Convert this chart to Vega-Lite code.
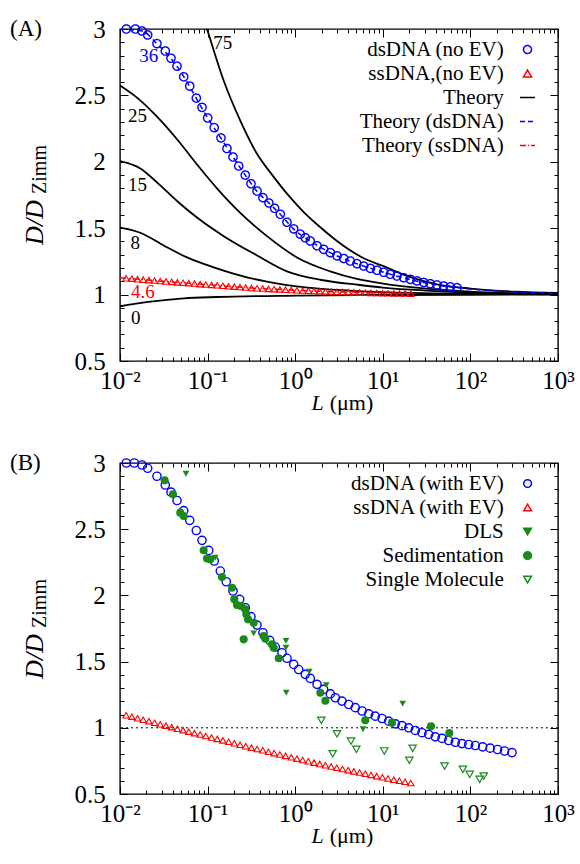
{
"$schema":"https://vega.github.io/schema/vega-lite/v6.json",
"background":"white",
"padding":{"left":9,"top":16,"right":0,"bottom":0},
"config":{
 "font":"Liberation Serif",
 "view":{"stroke":"black","strokeWidth":1.4},
 "axis":{"grid":false,"domain":false,"tickColor":"black","tickWidth":1,"labelFont":"Liberation Serif","labelFontSize":25,"labelColor":"black","titleFont":"Liberation Serif","titleColor":"black","titleFontWeight":"normal","labelFlush":false,"labelOverlap":false},
 "legend":{"labelFont":"Liberation Serif","titleFont":"Liberation Serif"},
 "text":{"font":"Liberation Serif"}
},
"datasets":{
 "theoryA":[
  {"curve":"75","L":0.0794,"v":3.19},{"curve":"75","L":0.0984,"v":3.0},{"curve":"75","L":0.1528,"v":2.61},{"curve":"75","L":0.236,"v":2.31},{"curve":"75","L":0.3664,"v":2.06},{"curve":"75","L":0.5623,"v":1.89},{"curve":"75","L":0.8054,"v":1.76},{"curve":"75","L":1.259,"v":1.62},{"curve":"75","L":1.995,"v":1.5},{"curve":"75","L":3.0,"v":1.404},{"curve":"75","L":5.623,"v":1.285},{"curve":"75","L":11.17,"v":1.203},{"curve":"75","L":19.95,"v":1.135},{"curve":"75","L":41.59,"v":1.077},{"curve":"75","L":100,"v":1.045},{"curve":"75","L":316.2,"v":1.022},{"curve":"75","L":1000,"v":1.012},
  {"curve":"25","L":0.01,"v":2.575},{"curve":"25","L":0.01563,"v":2.483},{"curve":"25","L":0.02642,"v":2.34},{"curve":"25","L":0.04477,"v":2.17},{"curve":"25","L":0.07568,"v":1.98},{"curve":"25","L":0.1279,"v":1.8},{"curve":"25","L":0.236,"v":1.615},{"curve":"25","L":0.4764,"v":1.44},{"curve":"25","L":1.047,"v":1.28},{"curve":"25","L":2.512,"v":1.175},{"curve":"25","L":5.07,"v":1.118},{"curve":"25","L":10,"v":1.083},{"curve":"25","L":31.62,"v":1.045},{"curve":"25","L":100,"v":1.022},{"curve":"25","L":316.2,"v":1.01},{"curve":"25","L":1000,"v":1.005},
  {"curve":"15","L":0.01,"v":2.005},{"curve":"15","L":0.01706,"v":1.95},{"curve":"15","L":0.02642,"v":1.845},{"curve":"15","L":0.04477,"v":1.705},{"curve":"15","L":0.07568,"v":1.58},{"curve":"15","L":0.1528,"v":1.44},{"curve":"15","L":0.3664,"v":1.295},{"curve":"15","L":0.8054,"v":1.175},{"curve":"15","L":1.995,"v":1.11},{"curve":"15","L":5.07,"v":1.075},{"curve":"15","L":10,"v":1.053},{"curve":"15","L":31.62,"v":1.03},{"curve":"15","L":100,"v":1.015},{"curve":"15","L":1000,"v":1.003},
  {"curve":"8","L":0.01,"v":1.505},{"curve":"8","L":0.01706,"v":1.466},{"curve":"8","L":0.03155,"v":1.37},{"curve":"8","L":0.05821,"v":1.28},{"curve":"8","L":0.1175,"v":1.205},{"curve":"8","L":0.2818,"v":1.13},{"curve":"8","L":0.8054,"v":1.072},{"curve":"8","L":3.0,"v":1.035},{"curve":"8","L":10,"v":1.018},{"curve":"8","L":100,"v":1.006},{"curve":"8","L":1000,"v":1.002},
  {"curve":"0","L":0.01,"v":0.912},{"curve":"0","L":0.02218,"v":0.947},{"curve":"0","L":0.05333,"v":0.972},{"curve":"0","L":0.1279,"v":0.982},{"curve":"0","L":1.047,"v":0.992},{"curve":"0","L":10,"v":0.997},{"curve":"0","L":100,"v":0.999},{"curve":"0","L":1000,"v":1.0}
 ],
 "dsTheoryA":[
  {"L":0.01,"v":3.0},{"L":0.01778,"v":2.985},{"L":0.0263,"v":2.89},{"L":0.038,"v":2.78},{"L":0.0537,"v":2.64},{"L":0.0741,"v":2.48},{"L":0.1,"v":2.33},{"L":0.1413,"v":2.18},{"L":0.195,"v":2.036},{"L":0.2692,"v":1.9},{"L":0.3631,"v":1.78},{"L":0.5012,"v":1.69},{"L":0.6761,"v":1.605},{"L":0.955,"v":1.495},{"L":1.479,"v":1.404},{"L":2.512,"v":1.316},{"L":5.012,"v":1.233},{"L":10,"v":1.17},{"L":19.95,"v":1.115},{"L":39.81,"v":1.075},{"L":70.79,"v":1.052},{"L":158.5,"v":1.032},{"L":398.1,"v":1.018},{"L":1000,"v":1.01}
 ],
 "ssTheoryA":[
  {"L":0.01,"v":1.127},{"L":0.03162,"v":1.1},{"L":0.1,"v":1.075},{"L":0.3162,"v":1.05},{"L":1,"v":1.033},{"L":3.162,"v":1.02},{"L":10,"v":1.011},{"L":19.05,"v":1.008}
 ],
 "dsA":[
  {"series":"dsDNA (no EV)","L":0.0118,"v":3.0},{"series":"dsDNA (no EV)","L":0.01496,"v":3.0},{"series":"dsDNA (no EV)","L":0.01782,"v":2.985},{"series":"dsDNA (no EV)","L":0.0207,"v":2.955},{"series":"dsDNA (no EV)","L":0.02642,"v":2.89},{"series":"dsDNA (no EV)","L":0.03289,"v":2.834},{"series":"dsDNA (no EV)","L":0.0382,"v":2.78},{"series":"dsDNA (no EV)","L":0.04477,"v":2.72},{"series":"dsDNA (no EV)","L":0.05333,"v":2.64},{"series":"dsDNA (no EV)","L":0.06252,"v":2.57},{"series":"dsDNA (no EV)","L":0.0743,"v":2.48},{"series":"dsDNA (no EV)","L":0.0863,"v":2.41},{"series":"dsDNA (no EV)","L":0.1002,"v":2.33},{"series":"dsDNA (no EV)","L":0.1191,"v":2.257},{"series":"dsDNA (no EV)","L":0.1422,"v":2.18},{"series":"dsDNA (no EV)","L":0.1663,"v":2.1},{"series":"dsDNA (no EV)","L":0.195,"v":2.036},{"series":"dsDNA (no EV)","L":0.2265,"v":1.968},{"series":"dsDNA (no EV)","L":0.2692,"v":1.9},{"series":"dsDNA (no EV)","L":0.3126,"v":1.835},{"series":"dsDNA (no EV)","L":0.3664,"v":1.78},{"series":"dsDNA (no EV)","L":0.4285,"v":1.73},{"series":"dsDNA (no EV)","L":0.5012,"v":1.69},{"series":"dsDNA (no EV)","L":0.5821,"v":1.65},{"series":"dsDNA (no EV)","L":0.6761,"v":1.605},{"series":"dsDNA (no EV)","L":0.8054,"v":1.545},{"series":"dsDNA (no EV)","L":0.9616,"v":1.495},{"series":"dsDNA (no EV)","L":1.143,"v":1.455},{"series":"dsDNA (no EV)","L":1.303,"v":1.428},{"series":"dsDNA (no EV)","L":1.486,"v":1.404},{"series":"dsDNA (no EV)","L":1.774,"v":1.368},{"series":"dsDNA (no EV)","L":2.113,"v":1.341},{"series":"dsDNA (no EV)","L":2.518,"v":1.316},{"series":"dsDNA (no EV)","L":2.999,"v":1.292},{"series":"dsDNA (no EV)","L":3.581,"v":1.272},{"series":"dsDNA (no EV)","L":4.256,"v":1.253},{"series":"dsDNA (no EV)","L":5.07,"v":1.233},{"series":"dsDNA (no EV)","L":6.053,"v":1.215},{"series":"dsDNA (no EV)","L":7.211,"v":1.198},{"series":"dsDNA (no EV)","L":8.59,"v":1.183},{"series":"dsDNA (no EV)","L":10.23,"v":1.168},{"series":"dsDNA (no EV)","L":12.19,"v":1.153},{"series":"dsDNA (no EV)","L":14.52,"v":1.14},{"series":"dsDNA (no EV)","L":17.34,"v":1.127},{"series":"dsDNA (no EV)","L":20.65,"v":1.115},{"series":"dsDNA (no EV)","L":24.55,"v":1.103},{"series":"dsDNA (no EV)","L":29.31,"v":1.092},{"series":"dsDNA (no EV)","L":34.83,"v":1.082},{"series":"dsDNA (no EV)","L":41.59,"v":1.073},{"series":"dsDNA (no EV)","L":49.55,"v":1.065},{"series":"dsDNA (no EV)","L":59.02,"v":1.058},{"series":"dsDNA (no EV)","L":70.31,"v":1.052}
 ],
 "ssA":[
  {"L":0.01175,"v":1.123},{"L":0.01365,"v":1.12},{"L":0.01585,"v":1.116},{"L":0.01841,"v":1.113},{"L":0.02138,"v":1.109},{"L":0.02483,"v":1.106},{"L":0.02884,"v":1.102},{"L":0.0335,"v":1.099},{"L":0.0389,"v":1.096},{"L":0.04519,"v":1.092},{"L":0.05248,"v":1.089},{"L":0.06095,"v":1.086},{"L":0.07079,"v":1.083},{"L":0.08222,"v":1.079},{"L":0.0955,"v":1.076},{"L":0.1109,"v":1.073},{"L":0.1288,"v":1.07},{"L":0.1496,"v":1.066},{"L":0.1738,"v":1.063},{"L":0.2018,"v":1.06},{"L":0.2344,"v":1.057},{"L":0.2723,"v":1.053},{"L":0.3162,"v":1.05},{"L":0.3673,"v":1.048},{"L":0.4266,"v":1.046},{"L":0.4955,"v":1.043},{"L":0.5754,"v":1.041},{"L":0.6683,"v":1.039},{"L":0.7762,"v":1.037},{"L":0.9016,"v":1.035},{"L":1.047,"v":1.033},{"L":1.216,"v":1.031},{"L":1.413,"v":1.029},{"L":1.641,"v":1.027},{"L":1.905,"v":1.026},{"L":2.213,"v":1.024},{"L":2.57,"v":1.022},{"L":2.985,"v":1.02},{"L":3.467,"v":1.019},{"L":4.027,"v":1.018},{"L":4.677,"v":1.017},{"L":5.433,"v":1.015},{"L":6.31,"v":1.014},{"L":7.328,"v":1.013},{"L":8.511,"v":1.012},{"L":9.886,"v":1.011},{"L":11.48,"v":1.01},{"L":13.34,"v":1.009},{"L":15.49,"v":1.008},{"L":17.99,"v":1.008},{"L":20.89,"v":1.007}
 ],
 "labelsA":[
  {"label":"75","L":0.1491,"v":2.891},{"label":"36","L":0.0213,"v":2.797},{"label":"25","L":0.01585,"v":2.345},{"label":"15","L":0.01585,"v":1.825},{"label":"8","L":0.01496,"v":1.391},{"label":"4.6","L":0.0182,"v":1.023},{"label":"0","L":0.0151,"v":0.826}
 ],
 "dsB":[
  {"series":"dsDNA (with EV)","L":0.0118,"v":3.0},{"series":"dsDNA (with EV)","L":0.01455,"v":3.0},{"series":"dsDNA (with EV)","L":0.01782,"v":2.985},{"series":"dsDNA (with EV)","L":0.0207,"v":2.96},{"series":"dsDNA (with EV)","L":0.02642,"v":2.9},{"series":"dsDNA (with EV)","L":0.03289,"v":2.834},{"series":"dsDNA (with EV)","L":0.0382,"v":2.78},{"series":"dsDNA (with EV)","L":0.04477,"v":2.717},{"series":"dsDNA (with EV)","L":0.05333,"v":2.64},{"series":"dsDNA (with EV)","L":0.06252,"v":2.567},{"series":"dsDNA (with EV)","L":0.0743,"v":2.49},{"series":"dsDNA (with EV)","L":0.0863,"v":2.416},{"series":"dsDNA (with EV)","L":0.103,"v":2.34},{"series":"dsDNA (with EV)","L":0.1191,"v":2.26},{"series":"dsDNA (with EV)","L":0.1396,"v":2.184},{"series":"dsDNA (with EV)","L":0.1633,"v":2.103},{"series":"dsDNA (with EV)","L":0.195,"v":2.033},{"series":"dsDNA (with EV)","L":0.2323,"v":1.97},{"series":"dsDNA (with EV)","L":0.2692,"v":1.907},{"series":"dsDNA (with EV)","L":0.3126,"v":1.84},{"series":"dsDNA (with EV)","L":0.3664,"v":1.776},{"series":"dsDNA (with EV)","L":0.4285,"v":1.718},{"series":"dsDNA (with EV)","L":0.5117,"v":1.66},{"series":"dsDNA (with EV)","L":0.5929,"v":1.61},{"series":"dsDNA (with EV)","L":0.7063,"v":1.567},{"series":"dsDNA (with EV)","L":0.8054,"v":1.525},{"series":"dsDNA (with EV)","L":0.9616,"v":1.479},{"series":"dsDNA (with EV)","L":1.096,"v":1.44},{"series":"dsDNA (with EV)","L":1.303,"v":1.404},{"series":"dsDNA (with EV)","L":1.486,"v":1.373},{"series":"dsDNA (with EV)","L":1.774,"v":1.328},{"series":"dsDNA (with EV)","L":2.113,"v":1.29},{"series":"dsDNA (with EV)","L":2.518,"v":1.256},{"series":"dsDNA (with EV)","L":2.871,"v":1.227},{"series":"dsDNA (with EV)","L":3.42,"v":1.202},{"series":"dsDNA (with EV)","L":4.083,"v":1.176},{"series":"dsDNA (with EV)","L":4.853,"v":1.152},{"series":"dsDNA (with EV)","L":5.794,"v":1.127},{"series":"dsDNA (with EV)","L":6.902,"v":1.105},{"series":"dsDNA (with EV)","L":8.204,"v":1.088},{"series":"dsDNA (with EV)","L":9.795,"v":1.07},{"series":"dsDNA (with EV)","L":11.67,"v":1.05},{"series":"dsDNA (with EV)","L":13.9,"v":1.03},{"series":"dsDNA (with EV)","L":16.56,"v":1.016},{"series":"dsDNA (with EV)","L":19.77,"v":1.0},{"series":"dsDNA (with EV)","L":23.5,"v":0.98},{"series":"dsDNA (with EV)","L":27.99,"v":0.963},{"series":"dsDNA (with EV)","L":33.42,"v":0.95},{"series":"dsDNA (with EV)","L":39.72,"v":0.932},{"series":"dsDNA (with EV)","L":47.42,"v":0.92},{"series":"dsDNA (with EV)","L":56.49,"v":0.904},{"series":"dsDNA (with EV)","L":67.3,"v":0.891},{"series":"dsDNA (with EV)","L":80.17,"v":0.881},{"series":"dsDNA (with EV)","L":95.72,"v":0.874},{"series":"dsDNA (with EV)","L":113.8,"v":0.866},{"series":"dsDNA (with EV)","L":138,"v":0.856},{"series":"dsDNA (with EV)","L":167.9,"v":0.846},{"series":"dsDNA (with EV)","L":204.2,"v":0.836},{"series":"dsDNA (with EV)","L":245.5,"v":0.825},{"series":"dsDNA (with EV)","L":298.5,"v":0.813}
 ],
 "ssB":[
  {"L":0.01175,"v":1.095},{"L":0.01365,"v":1.084},{"L":0.01585,"v":1.072},{"L":0.01841,"v":1.061},{"L":0.02138,"v":1.05},{"L":0.02483,"v":1.038},{"L":0.02884,"v":1.027},{"L":0.0335,"v":1.016},{"L":0.0389,"v":1.005},{"L":0.04519,"v":0.993},{"L":0.05248,"v":0.982},{"L":0.06095,"v":0.971},{"L":0.07079,"v":0.96},{"L":0.08222,"v":0.949},{"L":0.0955,"v":0.938},{"L":0.1109,"v":0.927},{"L":0.1288,"v":0.916},{"L":0.1496,"v":0.905},{"L":0.1738,"v":0.894},{"L":0.2018,"v":0.883},{"L":0.2344,"v":0.872},{"L":0.2723,"v":0.861},{"L":0.3162,"v":0.85},{"L":0.3673,"v":0.84},{"L":0.4266,"v":0.83},{"L":0.4955,"v":0.819},{"L":0.5754,"v":0.809},{"L":0.6683,"v":0.798},{"L":0.7762,"v":0.788},{"L":0.9016,"v":0.777},{"L":1.047,"v":0.767},{"L":1.216,"v":0.757},{"L":1.413,"v":0.747},{"L":1.641,"v":0.737},{"L":1.905,"v":0.727},{"L":2.213,"v":0.717},{"L":2.57,"v":0.708},{"L":2.985,"v":0.698},{"L":3.467,"v":0.689},{"L":4.027,"v":0.68},{"L":4.677,"v":0.671},{"L":5.433,"v":0.662},{"L":6.31,"v":0.653},{"L":7.328,"v":0.644},{"L":8.511,"v":0.635},{"L":9.886,"v":0.626},{"L":11.48,"v":0.617},{"L":13.34,"v":0.608},{"L":15.49,"v":0.6},{"L":17.99,"v":0.592},{"L":20.89,"v":0.583}
 ],
 "dls":[
  {"L":0.05662,"v":2.919},{"L":0.1225,"v":2.285},{"L":0.3357,"v":1.713},{"L":0.7852,"v":1.656},{"L":0.7852,"v":1.605},{"L":0.7907,"v":1.265},{"L":1.449,"v":1.424},{"L":2.265,"v":1.323},{"L":16.87,"v":1.182},{"L":5.943,"v":0.989}
 ],
 "sed":[
  {"L":0.03236,"v":2.869},{"L":0.04027,"v":2.764},{"L":0.04875,"v":2.625},{"L":0.05333,"v":2.6},{"L":0.09016,"v":2.341},{"L":0.0984,"v":2.279},{"L":0.1074,"v":2.273},{"L":0.1459,"v":2.139},{"L":0.1901,"v":2.058},{"L":0.2018,"v":1.971},{"L":0.2168,"v":1.928},{"L":0.2404,"v":1.92},{"L":0.2692,"v":1.895},{"L":0.2767,"v":1.857},{"L":0.2891,"v":1.819},{"L":0.3357,"v":1.794},{"L":0.2582,"v":1.668},{"L":0.4365,"v":1.693},{"L":0.456,"v":1.673},{"L":0.5433,"v":1.631},{"L":0.5689,"v":1.605},{"L":0.6486,"v":1.525},{"L":1.936,"v":1.265},{"L":2.208,"v":1.205},{"L":6.31,"v":1.057},{"L":12.74,"v":1.039},{"L":35.48,"v":1.012},{"L":57.41,"v":0.96}
 ],
 "sm":[
  {"L":1.986,"v":1.057},{"L":2.999,"v":0.955},{"L":4.335,"v":0.9},{"L":4.989,"v":0.838},{"L":2.679,"v":0.804},{"L":10.4,"v":0.825},{"L":21.93,"v":0.845},{"L":20.09,"v":0.755},{"L":50.7,"v":0.711},{"L":82.04,"v":0.687},{"L":98.17,"v":0.649},{"L":127.6,"v":0.611},{"L":141.9,"v":0.636}
 ],
 "refB":[{"v":1}]
},
"spacing":102,
"bounds":"flush",
"resolve":{"scale":{"x":"independent","y":"independent","color":"independent","shape":"independent","strokeDash":"independent","fill":"independent"},"legend":{"color":"independent","shape":"independent","strokeDash":"independent","fill":"independent"}},
"vconcat":[
 {
  "width":438,"height":332,
  "title":{"text":"(A)","anchor":"start","frame":"group","baseline":"middle","offset":0,"dx":-110,"dy":35,"font":"Liberation Serif","fontSize":23,"fontWeight":"normal","color":"black"},
  "resolve":{"axis":{"x":"independent","y":"independent"}},
  "layer":[
   {"data":{"name":"theoryA"},
    "mark":{"type":"line","color":"black","strokeWidth":1.8,"clip":true,"interpolate":"monotone"},
    "encoding":{
     "x":{"field":"L","type":"quantitative","scale":{"type":"log","domain":[0.01,1000]},
      "axis":{"orient":"bottom","values":[0.01,0.1,1,10,100,1000],"tickSize":-8,"labelPadding":15,"labelExpr":"['10⁻²','10⁻¹','10⁰','10¹','10²','10³'][round(log(datum.value)/LN10)+2]","title":"L","titleFontStyle":"italic","titleFontSize":22,"titleX":197,"titleY":48,"titleBaseline":"alphabetic","titleAlign":"center"}},
     "y":{"field":"v","type":"quantitative","scale":{"domain":[0.5,3],"nice":false,"zero":false},
      "axis":{"orient":"left","values":[0.5,1,1.5,2,2.5,3],"tickSize":-8,"labelPadding":22.7,"labelExpr":"format(datum.value,'~g')","title":"D/D","titleFontStyle":"italic","titleFontSize":26,"titleAngle":-90,"titleX":-78,"titleY":193,"titleAlign":"center","titleBaseline":"alphabetic"}},
     "detail":{"field":"curve","type":"nominal"}
    }},
   {"data":{"name":"dsTheoryA"},
    "mark":{"type":"line","color":"#0000ff","strokeWidth":1.5,"strokeDash":[5,4],"clip":true,"interpolate":"monotone"},
    "encoding":{
     "x":{"field":"L","type":"quantitative","scale":{"type":"log","domain":[0.01,1000]},
      "axis":{"orient":"top","values":[0.01,0.1,1,10,100,1000],"tickSize":-8,"labels":false,"title":null}},
     "y":{"field":"v","type":"quantitative","scale":{"domain":[0.5,3],"nice":false,"zero":false},
      "axis":{"orient":"right","values":[0.5,1,1.5,2,2.5,3],"tickSize":-8,"labels":false,"title":null}}
    }},
   {"data":{"name":"ssTheoryA"},
    "mark":{"type":"line","color":"#ff0000","strokeWidth":1.5,"strokeDash":[6,3,1,3],"clip":true,"interpolate":"monotone"},
    "encoding":{
     "x":{"field":"L","type":"quantitative","scale":{"type":"log","domain":[0.01,1000]},
      "axis":{"orient":"bottom","values":[0.02,0.03,0.04,0.05,0.06,0.07,0.08,0.09,0.2,0.3,0.4,0.5,0.6,0.7,0.8,0.9,2,3,4,5,6,7,8,9,20,30,40,50,60,70,80,90,200,300,400,500,600,700,800,900],"tickSize":-4,"labels":false,"title":"(μm)","titleFontSize":22,"titleX":231,"titleY":48,"titleBaseline":"alphabetic","titleAlign":"center"}},
     "y":{"field":"v","type":"quantitative","scale":{"domain":[0.5,3],"nice":false,"zero":false},
      "axis":{"orient":"left","values":[0.6,0.7,0.8,0.9,1.1,1.2,1.3,1.4,1.6,1.7,1.8,1.9,2.1,2.2,2.3,2.4,2.6,2.7,2.8,2.9],"tickSize":-4,"labels":false,"title":"Zimm","titleFontSize":20,"titleAngle":-90,"titleX":-75,"titleY":140,"titleAlign":"center","titleBaseline":"alphabetic"}}
    }},
   {"data":{"name":"dsA"},
    "mark":{"type":"point","filled":false,"strokeWidth":1.4,"size":68,"opacity":1},
    "encoding":{
     "x":{"field":"L","type":"quantitative","scale":{"type":"log","domain":[0.01,1000]},
      "axis":{"orient":"top","values":[0.02,0.03,0.04,0.05,0.06,0.07,0.08,0.09,0.2,0.3,0.4,0.5,0.6,0.7,0.8,0.9,2,3,4,5,6,7,8,9,20,30,40,50,60,70,80,90,200,300,400,500,600,700,800,900],"tickSize":-4,"labels":false,"title":null}},
     "y":{"field":"v","type":"quantitative","scale":{"domain":[0.5,3],"nice":false,"zero":false},
      "axis":{"orient":"right","values":[0.6,0.7,0.8,0.9,1.1,1.2,1.3,1.4,1.6,1.7,1.8,1.9,2.1,2.2,2.3,2.4,2.6,2.7,2.8,2.9],"tickSize":-4,"labels":false,"title":null}},
     "color":{"field":"series","type":"nominal","scale":{"domain":["dsDNA (no EV)","ssDNA,(no EV)","Theory","Theory (dsDNA)","Theory (ssDNA)"],"range":["#0000ff","#ff0000","#000000","#0000ff","#ff0000"]},
      "legend":{"orient":"none","legendX":397,"legendY":10,"direction":"vertical","title":null,"padding":0,"labelFontSize":21,"labelColor":"black","labelAlign":"right","labelBaseline":"middle","labelOffset":-34.3,"labelLimit":400,"rowPadding":2,"symbolOffset":0,"symbolSize":64}},
     "shape":{"field":"series","type":"nominal","scale":{"domain":["dsDNA (no EV)","ssDNA,(no EV)","Theory","Theory (dsDNA)","Theory (ssDNA)"],"range":["circle","triangle-up","M-1.875,0L1.875,0","M-1.875,0L1.875,0","M-1.875,0L1.875,0"]},
      "legend":{"orient":"none","legendX":397,"legendY":10,"direction":"vertical","title":null,"padding":0,"labelFontSize":21,"labelColor":"black","labelAlign":"right","labelBaseline":"middle","labelOffset":-34.3,"labelLimit":400,"rowPadding":2,"symbolOffset":0,"symbolSize":64}},
     "strokeDash":{"field":"series","type":"nominal","scale":{"domain":["dsDNA (no EV)","ssDNA,(no EV)","Theory","Theory (dsDNA)","Theory (ssDNA)"],"range":[[1,0],[1,0],[1,0],[5,3],[6,2,1,2]]},
      "legend":{"orient":"none","legendX":397,"legendY":10,"direction":"vertical","title":null,"padding":0,"labelFontSize":21,"labelColor":"black","labelAlign":"right","labelBaseline":"middle","labelOffset":-34.3,"labelLimit":400,"rowPadding":2,"symbolOffset":0,"symbolSize":64}}
    }},
   {"data":{"name":"ssA"},
    "mark":{"type":"point","shape":"triangle-up","filled":false,"color":"#ff0000","strokeWidth":1.1,"size":40,"opacity":1},
    "encoding":{
     "x":{"field":"L","type":"quantitative","scale":{"type":"log","domain":[0.01,1000]},"axis":null},
     "y":{"field":"v","type":"quantitative","scale":{"domain":[0.5,3],"nice":false,"zero":false},"axis":null}
    }},
   {"data":{"name":"labelsA"},
    "mark":{"type":"text","font":"Liberation Serif","fontSize":19,"align":"center","baseline":"middle"},
    "encoding":{
     "x":{"field":"L","type":"quantitative","scale":{"type":"log","domain":[0.01,1000]},"axis":null},
     "y":{"field":"v","type":"quantitative","scale":{"domain":[0.5,3],"nice":false,"zero":false},"axis":null},
     "text":{"field":"label"},
     "color":{"condition":[{"test":"datum.label === '36'","value":"#0000ff"},{"test":"datum.label === '4.6'","value":"#ff0000"}],"value":"black"}
    }}
  ]
 },
 {
  "width":438,"height":331,
  "title":{"text":"(B)","anchor":"start","frame":"group","baseline":"middle","offset":0,"dx":-110,"dy":35,"font":"Liberation Serif","fontSize":23,"fontWeight":"normal","color":"black"},
  "resolve":{"axis":{"x":"independent","y":"independent"}},
  "layer":[
   {"data":{"name":"refB"},
    "mark":{"type":"rule","color":"black","strokeWidth":1,"strokeDash":[2,3]},
    "encoding":{
     "y":{"field":"v","type":"quantitative","scale":{"domain":[0.5,3],"nice":false,"zero":false},"axis":null}
    }},
   {"data":{"name":"dsB"},
    "mark":{"type":"point","filled":false,"strokeWidth":1.4,"size":68,"opacity":1},
    "encoding":{
     "x":{"field":"L","type":"quantitative","scale":{"type":"log","domain":[0.01,1000]},
      "axis":{"orient":"bottom","values":[0.01,0.1,1,10,100,1000],"tickSize":-8,"labelPadding":15,"labelExpr":"['10⁻²','10⁻¹','10⁰','10¹','10²','10³'][round(log(datum.value)/LN10)+2]","title":"L","titleFontStyle":"italic","titleFontSize":22,"titleX":197,"titleY":48,"titleBaseline":"alphabetic","titleAlign":"center"}},
     "y":{"field":"v","type":"quantitative","scale":{"domain":[0.5,3],"nice":false,"zero":false},
      "axis":{"orient":"left","values":[0.5,1,1.5,2,2.5,3],"tickSize":-8,"labelPadding":22.7,"labelExpr":"format(datum.value,'~g')","title":"D/D","titleFontStyle":"italic","titleFontSize":26,"titleAngle":-90,"titleX":-78,"titleY":193,"titleAlign":"center","titleBaseline":"alphabetic"}},
     "color":{"field":"series","type":"nominal","scale":{"domain":["dsDNA (with EV)","ssDNA (with EV)","DLS","Sedimentation","Single Molecule"],"range":["#0000ff","#ff0000","#1a8a1a","#1a8a1a","#1a8a1a"]},
      "legend":{"orient":"none","legendX":397.1,"legendY":10,"direction":"vertical","title":null,"padding":0,"labelFontSize":21,"labelColor":"black","labelAlign":"right","labelBaseline":"middle","labelOffset":-34.3,"labelLimit":400,"rowPadding":2,"symbolOffset":0,"symbolSize":60}},
     "shape":{"field":"series","type":"nominal","scale":{"domain":["dsDNA (with EV)","ssDNA (with EV)","DLS","Sedimentation","Single Molecule"],"range":["circle","triangle-up","triangle-down","circle","triangle-down"]},
      "legend":{"orient":"none","legendX":397.1,"legendY":10,"direction":"vertical","title":null,"padding":0,"labelFontSize":21,"labelColor":"black","labelAlign":"right","labelBaseline":"middle","labelOffset":-34.3,"labelLimit":400,"rowPadding":2,"symbolOffset":0,"symbolSize":60}},
     "fill":{"field":"series","type":"nominal","scale":{"domain":["dsDNA (with EV)","ssDNA (with EV)","DLS","Sedimentation","Single Molecule"],"range":["transparent","transparent","#1a8a1a","#1a8a1a","transparent"]},
      "legend":{"orient":"none","legendX":397.1,"legendY":10,"direction":"vertical","title":null,"padding":0,"labelFontSize":21,"labelColor":"black","labelAlign":"right","labelBaseline":"middle","labelOffset":-34.3,"labelLimit":400,"rowPadding":2,"symbolOffset":0,"symbolSize":60}}
    }},
   {"data":{"name":"ssB"},
    "mark":{"type":"point","shape":"triangle-up","filled":false,"color":"#ff0000","strokeWidth":1.1,"size":40,"opacity":1},
    "encoding":{
     "x":{"field":"L","type":"quantitative","scale":{"type":"log","domain":[0.01,1000]},
      "axis":{"orient":"top","values":[0.01,0.1,1,10,100,1000],"tickSize":-8,"labels":false,"title":null}},
     "y":{"field":"v","type":"quantitative","scale":{"domain":[0.5,3],"nice":false,"zero":false},
      "axis":{"orient":"right","values":[0.5,1,1.5,2,2.5,3],"tickSize":-8,"labels":false,"title":null}}
    }},
   {"data":{"name":"dls"},
    "mark":{"type":"point","shape":"triangle-down","filled":true,"color":"#1a8a1a","size":45,"opacity":1},
    "encoding":{
     "x":{"field":"L","type":"quantitative","scale":{"type":"log","domain":[0.01,1000]},
      "axis":{"orient":"bottom","values":[0.02,0.03,0.04,0.05,0.06,0.07,0.08,0.09,0.2,0.3,0.4,0.5,0.6,0.7,0.8,0.9,2,3,4,5,6,7,8,9,20,30,40,50,60,70,80,90,200,300,400,500,600,700,800,900],"tickSize":-4,"labels":false,"title":"(μm)","titleFontSize":22,"titleX":231,"titleY":48,"titleBaseline":"alphabetic","titleAlign":"center"}},
     "y":{"field":"v","type":"quantitative","scale":{"domain":[0.5,3],"nice":false,"zero":false},
      "axis":{"orient":"left","values":[0.6,0.7,0.8,0.9,1.1,1.2,1.3,1.4,1.6,1.7,1.8,1.9,2.1,2.2,2.3,2.4,2.6,2.7,2.8,2.9],"tickSize":-4,"labels":false,"title":"Zimm","titleFontSize":20,"titleAngle":-90,"titleX":-75,"titleY":140,"titleAlign":"center","titleBaseline":"alphabetic"}}
    }},
   {"data":{"name":"sed"},
    "mark":{"type":"point","shape":"circle","filled":true,"color":"#1a8a1a","size":65,"opacity":1},
    "encoding":{
     "x":{"field":"L","type":"quantitative","scale":{"type":"log","domain":[0.01,1000]},
      "axis":{"orient":"top","values":[0.02,0.03,0.04,0.05,0.06,0.07,0.08,0.09,0.2,0.3,0.4,0.5,0.6,0.7,0.8,0.9,2,3,4,5,6,7,8,9,20,30,40,50,60,70,80,90,200,300,400,500,600,700,800,900],"tickSize":-4,"labels":false,"title":null}},
     "y":{"field":"v","type":"quantitative","scale":{"domain":[0.5,3],"nice":false,"zero":false},
      "axis":{"orient":"right","values":[0.6,0.7,0.8,0.9,1.1,1.2,1.3,1.4,1.6,1.7,1.8,1.9,2.1,2.2,2.3,2.4,2.6,2.7,2.8,2.9],"tickSize":-4,"labels":false,"title":null}}
    }},
   {"data":{"name":"sm"},
    "mark":{"type":"point","shape":"triangle-down","filled":false,"color":"#1a8a1a","strokeWidth":1.2,"size":55,"opacity":1},
    "encoding":{
     "x":{"field":"L","type":"quantitative","scale":{"type":"log","domain":[0.01,1000]},"axis":null},
     "y":{"field":"v","type":"quantitative","scale":{"domain":[0.5,3],"nice":false,"zero":false},"axis":null}
    }}
  ]
 }
]
}
